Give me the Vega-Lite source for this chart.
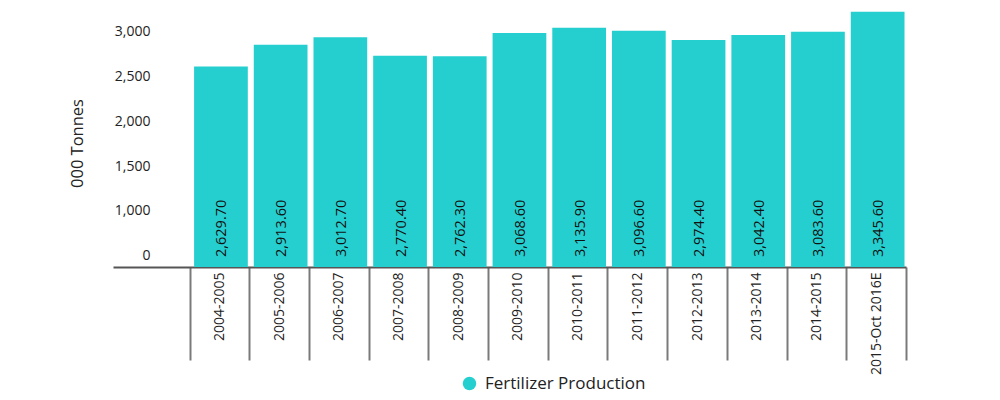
{
  "$schema": "https://vega.github.io/schema/vega-lite/v6.json",
  "autosize": {"type": "none"},
  "padding": {"left": 113, "top": 0, "right": 94, "bottom": 133},
  "width": 793,
  "height": 267,
  "background": "#ffffff",
  "config": {
    "view": {"stroke": null},
    "font": "Open Sans",
    "axis": {"labelFont": "Open Sans", "titleFont": "Open Sans", "labelColor": "#222222", "titleColor": "#222222"},
    "legend": {"labelFont": "Open Sans"}
  },
  "data": {
    "values": [
      {"Year": "2004-2005", "Production": 2629.7, "Series": "Fertilizer Production"},
      {"Year": "2005-2006", "Production": 2913.6, "Series": "Fertilizer Production"},
      {"Year": "2006-2007", "Production": 3012.7, "Series": "Fertilizer Production"},
      {"Year": "2007-2008", "Production": 2770.4, "Series": "Fertilizer Production"},
      {"Year": "2008-2009", "Production": 2762.3, "Series": "Fertilizer Production"},
      {"Year": "2009-2010", "Production": 3068.6, "Series": "Fertilizer Production"},
      {"Year": "2010-2011", "Production": 3135.9, "Series": "Fertilizer Production"},
      {"Year": "2011-2012", "Production": 3096.6, "Series": "Fertilizer Production"},
      {"Year": "2012-2013", "Production": 2974.4, "Series": "Fertilizer Production"},
      {"Year": "2013-2014", "Production": 3042.4, "Series": "Fertilizer Production"},
      {"Year": "2014-2015", "Production": 3083.6, "Series": "Fertilizer Production"},
      {"Year": "2015-Oct 2016E", "Production": 3345.6, "Series": "Fertilizer Production"}
    ]
  },
  "layer": [
    {
      "encoding": {
        "x": {
          "field": "Year",
          "type": "nominal",
          "sort": null,
          "scale": {"paddingInner": 0, "paddingOuter": 0.6415, "align": 1},
          "axis": {
            "title": null,
            "labelAngle": 270,
            "labelAlign": "right",
            "labelBaseline": "middle",
            "labelFontSize": 14,
            "labelPadding": -88,
            "tickBand": "extent",
            "tickSize": 93,
            "tickWidth": 2,
            "tickColor": "#7a7a7a",
            "domainColor": "#555555",
            "domainWidth": 2,
            "grid": false
          }
        }
      },
      "layer": [
        {
          "mark": {"type": "bar", "width": {"band": 0.9}, "xOffset": 1.5},
          "encoding": {
            "y": {"field": "Production", "type": "quantitative", "scale": {"domain": [0, 3500], "nice": false}, "axis": null},
            "color": {
              "field": "Series",
              "type": "nominal",
              "scale": {"range": ["#26CFCF"]},
              "legend": {
                "title": null,
                "orient": "none",
                "legendX": 348,
                "legendY": 375,
                "direction": "horizontal",
                "symbolType": "circle",
                "symbolSize": 180,
                "symbolStrokeWidth": 0,
                "labelFontSize": 17,
                "labelLimit": 400,
                "labelColor": "#222222",
                "labelOffset": 7,
                "padding": 0
              }
            }
          }
        },
        {
          "mark": {"type": "text", "angle": 270, "align": "left", "baseline": "middle", "dx": 10, "dy": 3, "fontSize": 14.5, "color": "#111111"},
          "encoding": {
            "y": {"datum": 0, "type": "quantitative"},
            "text": {"field": "Production", "type": "quantitative", "format": ",.2f"}
          }
        }
      ]
    },
    {
      "mark": {"type": "rule", "opacity": 0},
      "encoding": {
        "y": {
          "field": "Production",
          "type": "quantitative",
          "scale": {"domain": [374, 3354], "nice": false, "zero": false},
          "axis": {
            "orient": "left",
            "title": "000 Tonnes",
            "titleFontSize": 16.5,
            "titleFontWeight": "normal",
            "titlePadding": 28,
            "titleY": 143,
            "values": [500, 1000, 1500, 2000, 2500, 3000],
            "labelExpr": "datum.value == 500 ? '0' : format(datum.value, ',')",
            "labelFontSize": 14,
            "labelAlign": "right",
            "labelPadding": -37,
            "ticks": false,
            "tickSize": 0,
            "domain": false,
            "grid": false
          }
        }
      }
    }
  ],
  "resolve": {"scale": {"y": "independent"}, "axis": {"y": "independent"}}
}
